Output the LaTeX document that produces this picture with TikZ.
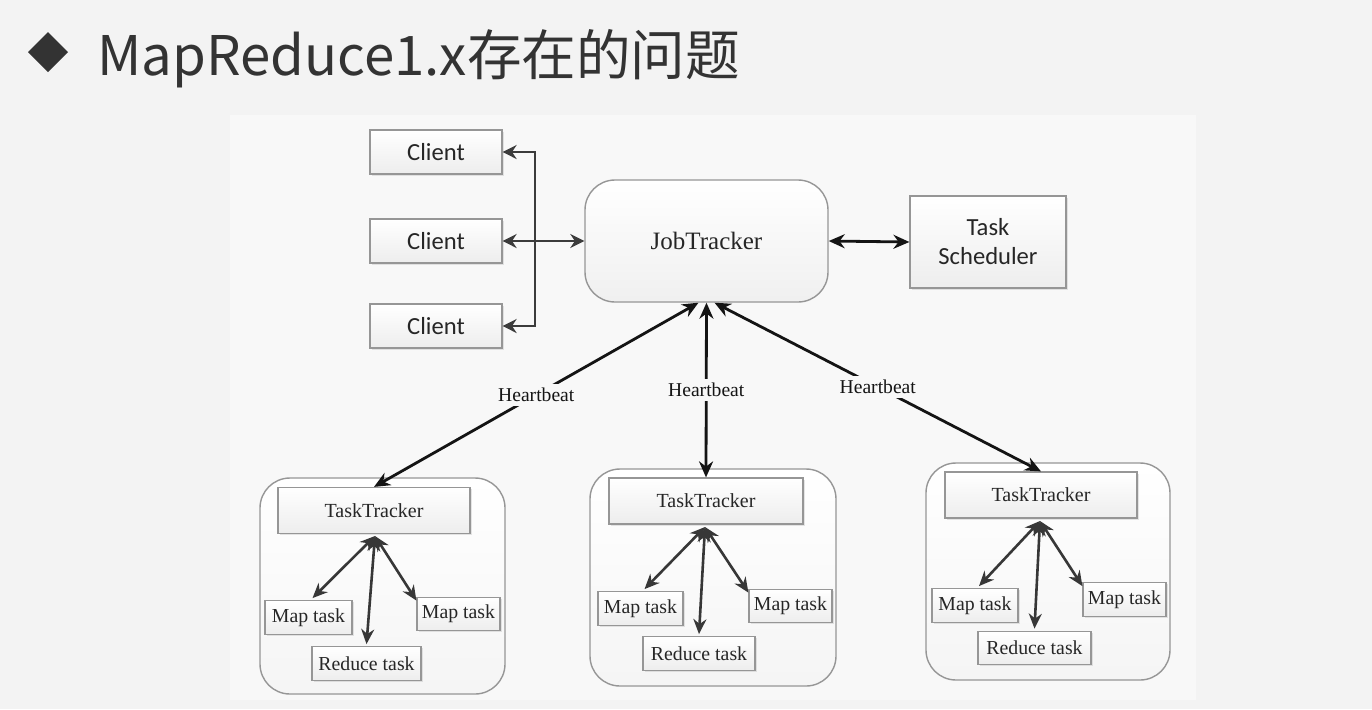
\documentclass[tikz,border=0pt]{standalone}
\usepackage{fontspec}
\setmainfont{Liberation Serif}
\newfontfamily\calfont{Carlito}
\newfontfamily\cjkfont{Noto Sans CJK SC}
\usetikzlibrary{arrows.meta,shadows,calc}
\definecolor{slidebg}{RGB}{243,243,243}
\definecolor{diagbg}{RGB}{248,248,248}
\definecolor{titlecol}{RGB}{51,51,51}
\definecolor{linecol}{RGB}{20,20,20}
\definecolor{clientline}{RGB}{60,60,60}
\definecolor{boxborder}{RGB}{150,150,150}
\tikzset{
  boxbase/.style={draw=boxborder, line width=0.6pt, top color=white, bottom color=gray!14,
     drop shadow={shadow xshift=0.8pt, shadow yshift=-0.8pt, opacity=0.2}, inner sep=0pt, text=black!85},
  clientbox/.style={boxbase, minimum width=66pt, minimum height=22pt, font=\calfont\fontsize{12.3}{14}\selectfont},
  schedbox/.style={boxbase, minimum width=78pt, minimum height=46pt, align=center, font=\calfont\fontsize{12.3}{14.5}\selectfont},
  jtbox/.style={draw=boxborder, line width=0.7pt, rounded corners=15pt, top color=white, bottom color=gray!12,
     minimum width=121.5pt, minimum height=61pt, font=\fontsize{12.5}{15}\selectfont, text=black!85},
  container/.style={draw=boxborder, line width=0.7pt, rounded corners=15pt, top color=white, bottom color=gray!8},
  ttbox/.style={boxbase, minimum height=23pt, font=\fontsize{10}{12}\selectfont},
  taskbox/.style={boxbase, minimum height=16.8pt, font=\fontsize{9.9}{12}\selectfont},
  hbarrow/.style={{Stealth[length=8pt,width=7pt]}-{Stealth[length=8pt,width=7pt]}, line width=1.4pt, draw=linecol},
  clarrow/.style={line width=1.3pt, draw=clientline},
  inarrow/.style={{Stealth[length=7.5pt,width=6.5pt]}-{Stealth[length=7.5pt,width=6.5pt]}, line width=1.3pt, draw=linecol!85!white},
  hblabel/.style={fill=diagbg, inner sep=2pt, font=\fontsize{9.8}{12}\selectfont, text=linecol}
}
\begin{document}
\begin{tikzpicture}[x=0.5pt,y=-0.5pt]
\useasboundingbox (0,0) rectangle (1372,709);
\fill[slidebg] (0,0) rectangle (1372,709);
\fill[diagbg] (230,115) rectangle (1196,700);

% title
\fill[titlecol] (48,32) -- (68,52) -- (48,72) -- (28,52) -- cycle;
\node[anchor=base west, inner sep=0pt, text=titlecol, font=\cjkfont\fontsize{27.3}{32}\selectfont] (title) at (97,75) {MapReduce1.x存在的问题};

% clients
\node[clientbox] (c1) at (436,152) {Client};
\node[clientbox] (c2) at (436,241) {Client};
\node[clientbox] (c3) at (436,326) {Client};
\coordinate (bus) at (535,241);

% JobTracker and scheduler
\node[jtbox] (jt) at (706.5,241) {JobTracker};
\node[schedbox] (ts) at (988,242) {Task\\Scheduler};

\draw[clarrow, {Stealth[length=7pt,width=7pt]}-{Stealth[length=7pt,width=7pt]}] (c1.east) -- (c1.east -| bus) -- (c3.east -| bus) -- (c3.east);
\draw[clarrow, {Stealth[length=7pt,width=7pt]}-{Stealth[length=7pt,width=7pt]}] (c2.east) -- (jt.west);
\draw[hbarrow] (jt.east) -- (ts.west);

% containers
\node[container, minimum width=122.5pt, minimum height=108pt] (kL) at (382.5,586) {};
\node[container, minimum width=123pt, minimum height=108.5pt] (kM) at (713,577.5) {};
\node[container, minimum width=122pt, minimum height=108.5pt] (kR) at (1048,571.5) {};

% task trackers
\node[ttbox, minimum width=96pt] (tL) at (374,510.5) {TaskTracker};
\node[ttbox, minimum width=97pt] (tM) at (706,501) {TaskTracker};
\node[ttbox, minimum width=96pt] (tR) at (1041,495) {TaskTracker};

% tasks left
\node[taskbox, minimum width=43.5pt] (m1L) at (308.5,617.5) {Map task};
\node[taskbox, minimum width=41.5pt] (m2L) at (458.5,614) {Map task};
\node[taskbox, minimum width=54.5pt] (rL) at (366.5,663.5) {Reduce task};
% tasks middle
\node[taskbox, minimum width=42.5pt] (m1M) at (640.5,608.5) {Map task};
\node[taskbox, minimum width=41.5pt] (m2M) at (790.5,606) {Map task};
\node[taskbox, minimum width=56pt] (rM) at (699,653.5) {Reduce task};
% tasks right
\node[taskbox, minimum width=43pt] (m1R) at (975,605.5) {Map task};
\node[taskbox, minimum width=41.5pt] (m2R) at (1124.5,599.5) {Map task};
\node[taskbox, minimum width=56.5pt] (rR) at (1034.5,648) {Reduce task};

% heartbeat arrows
\draw[hbarrow] ([xshift=-4pt]jt.south) -- node[hblabel, pos=0.5] {Heartbeat} (tL.north);
\draw[hbarrow] (jt.south) -- node[hblabel, pos=0.5] {Heartbeat} (tM.north);
\draw[hbarrow] ([xshift=4pt]jt.south) -- node[hblabel, pos=0.5] {Heartbeat} (tR.north);

% hubs
\coordinate (hL) at (375,536);
\coordinate (hM) at (705,527);
\coordinate (hR) at (1040,521);

\draw[inarrow] (hL) -- ([xshift=2pt,yshift=1pt]m1L.north);
\draw[inarrow] (hL) -- ([yshift=1pt]rL.north);
\draw[inarrow] (hL) -- ([yshift=-2pt]m2L.north west);

\draw[inarrow] (hM) -- ([xshift=2pt,yshift=1pt]m1M.north);
\draw[inarrow] (hM) -- ([yshift=1pt]rM.north);
\draw[inarrow] (hM) -- ([yshift=-2pt]m2M.north west);

\draw[inarrow] (hR) -- ([xshift=2pt,yshift=1pt]m1R.north);
\draw[inarrow] (hR) -- ([yshift=1pt]rR.north);
\draw[inarrow] (hR) -- ([yshift=-2pt]m2R.north west);
\end{tikzpicture}
\end{document}
